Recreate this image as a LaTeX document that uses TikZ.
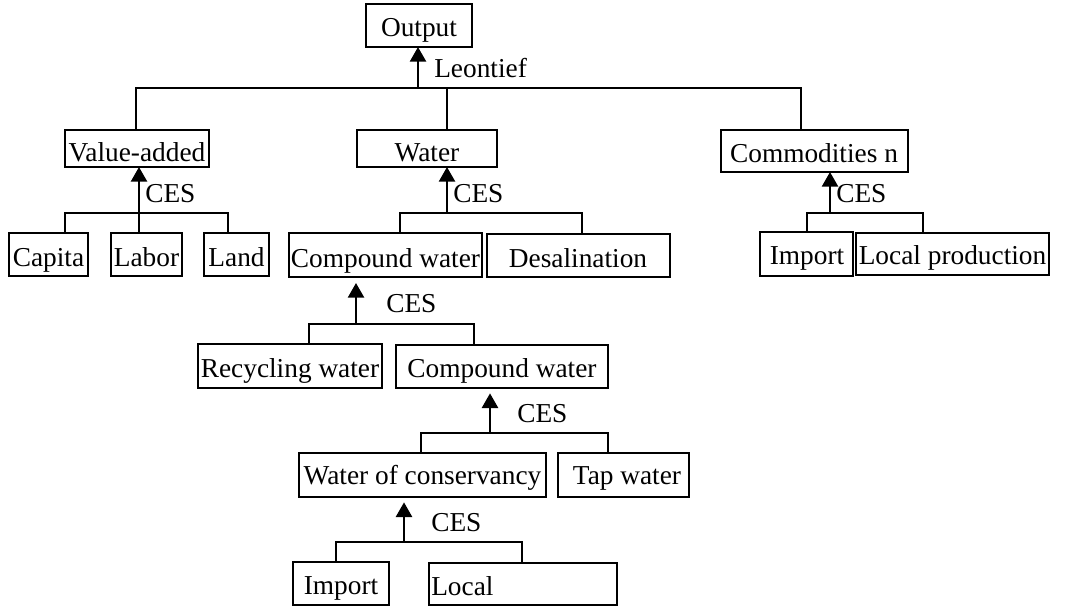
\documentclass[tikz,border=0pt]{standalone}
\usepackage{fontspec}
\setmainfont{Liberation Serif}
\usetikzlibrary{fit,arrows.meta}
\begin{document}
\begin{tikzpicture}[x=0.75pt,y=-0.75pt,
  box/.style={draw,line width=1.3pt,inner sep=0pt,outer sep=0pt},
  txt/.style={anchor=base,inner sep=0pt,font=\fontsize{20.5}{23}\selectfont},
  lbl/.style={anchor=base west,inner sep=0pt,font=\fontsize{20.5}{23}\selectfont},
  ln/.style={line width=1.3pt},
  arr/.style={line width=1.9pt,-{Triangle[length=11pt,width=12pt]}}]
\useasboundingbox (0,0) rectangle (1073,610);
% boxes
\node[box,fit={(366,4)(472,47)}] (output) {};
\node[txt] (outputT) at (419,37) {Output};
\node[box,fit={(65,130)(209,167)}] (valueadded) {};
\node[txt] (valueaddedT) at (137,161) {Value-added};
\node[box,fit={(357,130)(497,167)}] (water) {};
\node[txt] (waterT) at (427,161) {Water};
\node[box,fit={(721,130)(908,172)}] (commod) {};
\node[txt] (commodT) at (814,162) {Commodities n};
\node[box,fit={(9,233)(88,276)}] (capita) {};
\node[txt] (capitaT) at (48.5,266) {Capita};
\node[box,fit={(111,233)(182,276)}] (labor) {};
\node[txt] (laborT) at (146.5,266) {Labor};
\node[box,fit={(204,233)(269,276)}] (land) {};
\node[txt] (landT) at (236.5,266) {Land};
\node[box,fit={(289,233)(482,277)}] (cw1) {};
\node[txt] (cw1T) at (385.5,267) {Compound water};
\node[box,fit={(487,234)(670,277)}] (desal) {};
\node[txt] (desalT) at (578,267) {Desalination};
\node[box,fit={(760,232)(853,276)}] (importA) {};
\node[txt] (importAT) at (807,264) {Import};
\node[box,fit={(856,233)(1049,275)}] (localprod) {};
\node[txt] (localprodT) at (952.5,264) {Local production};
\node[box,fit={(198,344)(382,388)}] (recyc) {};
\node[txt] (recycT) at (290,377) {Recycling water};
\node[box,fit={(396,345)(608,388)}] (cw2) {};
\node[txt] (cw2T) at (502,377) {Compound water};
\node[box,fit={(299,453)(546,497)}] (woc) {};
\node[txt] (wocT) at (422.5,484) {Water of conservancy};
\node[box,fit={(558,453)(689,497)}] (tap) {};
\node[txt] (tapT) at (627,484) {Tap water};
\node[box,fit={(293,562)(389,605)}] (importB) {};
\node[txt] (importBT) at (341,594) {Import};
\node[box,fit={(429,563)(617,605)}] (local) {};
\node[lbl] (localT) at (431,595) {Local};
% top level
\coordinate (tL) at (136,88); \coordinate (tR) at (801,88);
\coordinate (tA) at (418,88); \coordinate (tW) at (447,88);
\draw[ln] (tL |- valueadded.north) -- (tL) -- (tR) -- (tR |- commod.north);
\draw[ln] (tW) -- (tW |- water.north);
\draw[arr] (tA) -- (tA |- output.south);
\node[lbl] (leon) at (434,77) {Leontief};
% value added
\coordinate (vL) at (65,213); \coordinate (vR) at (228,213); \coordinate (vA) at (139,213);
\draw[ln] (vL |- capita.north) -- (vL) -- (vR) -- (vR |- land.north);
\draw[ln] (vA) -- (vA |- labor.north);
\draw[arr] (vA) -- (vA |- valueadded.south);
\node[lbl] (cesV) at (145,202) {CES};
% water
\coordinate (wL) at (400,213); \coordinate (wR) at (582,213); \coordinate (wA) at (447,213);
\draw[ln] (wL |- cw1.north) -- (wL) -- (wR) -- (wR |- desal.north);
\draw[arr] (wA) -- (wA |- water.south);
\node[lbl] (cesW) at (453,202) {CES};
% commodities
\coordinate (cL) at (807,213); \coordinate (cR) at (923,213); \coordinate (cA) at (830,213);
\draw[ln] (cL |- importA.north) -- (cL) -- (cR) -- (cR |- localprod.north);
\draw[arr] (cA) -- (cA |- commod.south);
\node[lbl] (cesC) at (836,202) {CES};
% compound water 1
\coordinate (aL) at (309,324); \coordinate (aR) at (474,324); \coordinate (aA) at (356,324);
\draw[ln] (aL |- recyc.north) -- (aL) -- (aR) -- (aR |- cw2.north);
\draw[arr,shorten >=4.5pt] (aA) -- (aA |- cw1.south);
\node[lbl] (cesA) at (386,312) {CES};
% compound water 2
\coordinate (eL) at (421,433); \coordinate (eR) at (608,433); \coordinate (eA) at (490,433);
\draw[ln] (eL |- woc.north) -- (eL) -- (eR) -- (eR |- tap.north);
\draw[arr,shorten >=4pt] (eA) -- (eA |- cw2.south);
\node[lbl] (cesE) at (517,422) {CES};
% water of conservancy
\coordinate (gL) at (336,542); \coordinate (gR) at (522,542); \coordinate (gA) at (404,542);
\draw[ln] (gL |- importB.north) -- (gL) -- (gR) -- (gR |- local.north);
\draw[arr,shorten >=4pt] (gA) -- (gA |- woc.south);
\node[lbl] (cesG) at (431,531) {CES};
\end{tikzpicture}
\end{document}
